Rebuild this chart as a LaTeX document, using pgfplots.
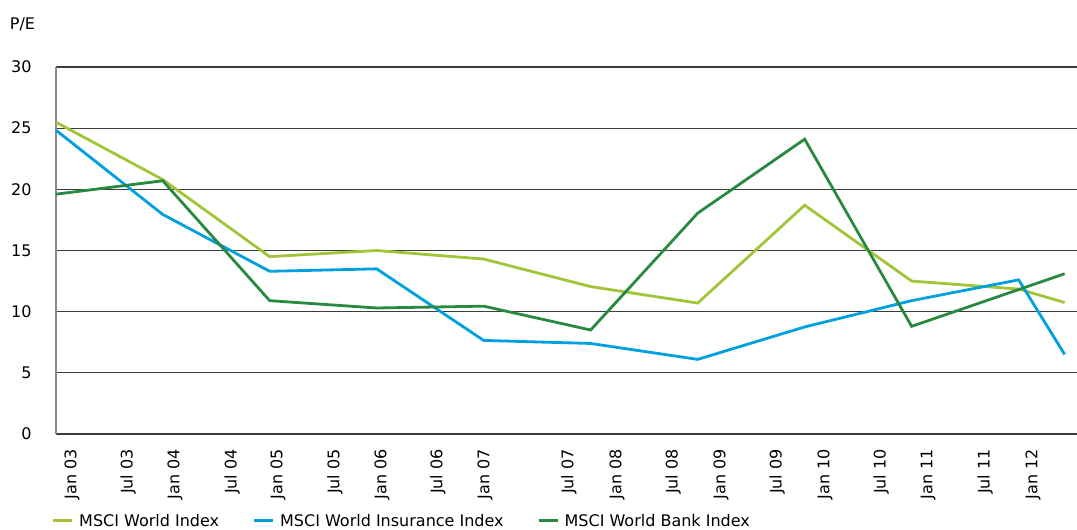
\documentclass[border=0pt]{standalone}
\usepackage{fontspec}
\setmainfont{DejaVu Sans}
\usepackage{pgfplots}
\pgfplotsset{compat=1.18}

\definecolor{worldc}{HTML}{A2C438}
\definecolor{insc}{HTML}{00A0DE}
\definecolor{bankc}{HTML}{288940}
\definecolor{gridc}{HTML}{3C3C3C}
\definecolor{yaxc}{HTML}{8A8A8A}

\begin{document}
\begin{tikzpicture}
\useasboundingbox (-55.7pt,-96pt) rectangle (1021.3pt,434pt);
\begin{axis}[
    at={(0pt,0pt)}, anchor=south west,
    scale only axis,
    width=1021.3pt, height=367pt,
    xmin=0, xmax=9.545,
    ymin=0, ymax=30,
    ytick={0,5,...,30},
    xtick={0.152,0.676,1.115,1.648,2.078,2.610,3.050,3.573,4.012,4.797,5.246,5.770,6.219,6.742,7.191,7.714,8.153,8.686,9.135},
    xticklabels={Jan 03,Jul 03,Jan 04,Jul 04,Jan 05,Jul 05,Jan 06,Jul 06,Jan 07,Jul 07,Jan 08,Jul 08,Jan 09,Jul 09,Jan 10,Jul 10,Jan 11,Jul 11,Jan 12},
    axis x line=bottom, axis y line=left,
    axis line style={-},
    x axis line style={draw=gridc, line width=1.3pt},
    y axis line style={draw=yaxc, line width=2pt},
    major tick length=0pt,
    ymajorgrids,
    grid style={draw=gridc, line width=1.2pt},
    /pgf/number format/assume math mode=true,
    tick label style={font=\fontsize{16}{19}\selectfont, inner sep=0pt},
    yticklabel style={anchor=east, xshift=-24pt},
    xticklabel style={rotate=90, anchor=east, xshift=-15pt},
    ylabel={P/E},
    ylabel style={rotate=-90, font=\fontsize{16}{19}\selectfont, inner sep=0pt,
        at={(axis description cs:-0.0325,1.117)}, anchor=center},
    legend columns=3,
    legend style={draw=none, fill=none, inner sep=0pt,
        at={(axis description cs:-0.0369,-0.237)}, anchor=west,
        font=\fontsize{16}{19}\selectfont,
        nodes={inner sep=0pt}, column sep=0pt},
    legend image code/.code={
        % widen the cell: 35pt before each key, 7pt after it
        \pgfpathrectangle{\pgfpoint{-35pt}{-1pt}}{\pgfpoint{61pt}{2pt}}%
        \pgfusepath{discard}%
        \draw[#1, line width=3pt] (0pt,0pt) -- (19pt,0pt);},
    every axis plot/.append style={line width=2.8pt, line join=miter, mark=none},
]
\addplot[color=worldc] coordinates {
    (0,25.5) (1,20.8) (2,14.5) (3,15.0) (4,14.3) (5,12.05)
    (6,10.7) (7,18.7) (8,12.5) (9,11.85) (9.43,10.75)};
\addplot[color=insc] coordinates {
    (0,24.85) (1,17.95) (2,13.3) (3,13.5) (4,7.65) (5,7.4)
    (6,6.1) (7,8.75) (8,10.9) (9,12.6) (9.43,6.5)};
\addplot[color=bankc] coordinates {
    (0,19.6) (1,20.7) (2,10.9) (3,10.3) (4,10.45) (5,8.5)
    (6,18.05) (7,24.1) (8,8.8) (9.43,13.1)};
\legend{MSCI World Index, MSCI World Insurance Index\hspace{22pt}, MSCI World Bank Index}
\end{axis}
\end{tikzpicture}
\end{document}
